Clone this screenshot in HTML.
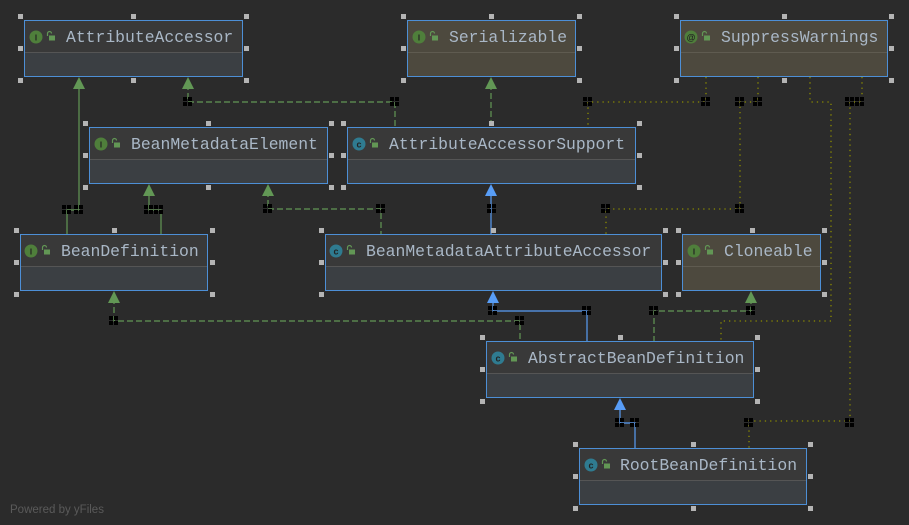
<!DOCTYPE html>
<html><head><meta charset="utf-8">
<style>
html,body{margin:0;padding:0;background:#2b2b2b;}
svg{display:block}
.t{font-family:"Liberation Mono","DejaVu Sans Mono",monospace;font-size:16.4px;fill:#a9b7c6}
</style></head><body>
<svg width="909" height="525" viewBox="0 0 909 525" xmlns="http://www.w3.org/2000/svg">
<defs>
<g id="j"><rect x="0" y="0" width="4" height="4" fill="#000"/><rect x="5" y="0" width="4" height="4" fill="#000"/><rect x="0" y="5" width="4" height="4" fill="#000"/><rect x="5" y="5" width="4" height="4" fill="#000"/></g>
<g id="lk"><path d="M1.5 5 V2.5 a2 2 0 0 1 4 0" fill="none" stroke="#629755" stroke-width="1.2"/><rect x="3" y="4.5" width="6" height="5" fill="#629755"/></g>
</defs>
<rect width="909" height="525" fill="#2b2b2b"/>

<!-- edges: solid green -->
<g fill="none" stroke="#629755" stroke-width="1.2">
<path d="M79 84 V210 H67 V234"/>
<path d="M149 191 V210 H161 V234"/>
</g>
<!-- dashed green -->
<g fill="none" stroke="#629755" stroke-width="1.2" stroke-dasharray="6,3">
<path d="M188 84 V102 H395 V127"/>
<path d="M491 84 V127"/>
<path d="M268 191 V209 H381 V234"/>
<path d="M114 298 V321 H520 V341"/>
<path d="M751 298 V311 H654 V341"/>
</g>
<!-- blue solid -->
<g fill="none" stroke="#589df6" stroke-width="1.2">
<path d="M491 191 V234"/>
<path d="M493 298 V311 H587 V341"/>
<path d="M620 405 V423 H635 V448"/>
</g>
<!-- dotted olive -->
<g fill="none" stroke="#8c8c00" stroke-width="1.3" stroke-dasharray="1.3,4">
<path d="M706 77 V102 H588 V127"/>
<path d="M758 77 V102 H740 V209 H606 V234"/>
<path d="M810 77 V102 H831 V321 H721 V341"/>
<path d="M862 77 V102 H850 V421 H749 V448"/>
</g>
<!-- arrowheads -->
<g fill="#629755">
<polygon points="79,77 73,89 85,89"/>
<polygon points="188,77 182,89 194,89"/>
<polygon points="491,77 485,89 497,89"/>
<polygon points="149,184 143,196 155,196"/>
<polygon points="268,184 262,196 274,196"/>
<polygon points="114,291 108,303 120,303"/>
<polygon points="751,291 745,303 757,303"/>
</g>
<g fill="#589df6">
<polygon points="491,184 485,196 497,196"/>
<polygon points="493,291 487,303 499,303"/>
<polygon points="620,398 614,410 626,410"/>
</g>
<!-- junction markers -->
<use href="#j" x="183" y="97"/><use href="#j" x="390" y="97"/>
<use href="#j" x="583" y="97"/><use href="#j" x="701" y="97"/>
<use href="#j" x="735" y="97"/><use href="#j" x="753" y="97"/>
<use href="#j" x="845" y="97"/><use href="#j" x="855" y="97"/>
<use href="#j" x="62" y="205"/><use href="#j" x="74" y="205"/>
<use href="#j" x="144" y="205"/><use href="#j" x="154" y="205"/>
<use href="#j" x="263" y="204"/><use href="#j" x="376" y="204"/>
<use href="#j" x="487" y="204"/><use href="#j" x="601" y="204"/>
<use href="#j" x="735" y="204"/>
<use href="#j" x="109" y="316"/><use href="#j" x="515" y="316"/>
<use href="#j" x="488" y="306"/><use href="#j" x="582" y="306"/>
<use href="#j" x="649" y="306"/><use href="#j" x="746" y="306"/>
<use href="#j" x="615" y="418"/><use href="#j" x="630" y="418"/>
<use href="#j" x="744" y="418"/><use href="#j" x="845" y="418"/>

<!-- nodes -->
<g id="nodes">
<!-- AttributeAccessor -->
<rect x="24.5" y="20.5" width="218" height="56" fill="#3b3f43" stroke="#4d8fd6"/>
<rect x="25" y="21" width="217" height="31" fill="#393939"/>
<line x1="25" y1="52.5" x2="242" y2="52.5" stroke="#555"/>
<circle cx="36" cy="37" r="6.5" fill="#4f7f3b"/><text x="36" y="40.5" font-family="Liberation Sans" font-size="8" font-weight="bold" fill="#222" text-anchor="middle">I</text>
<use href="#lk" x="46" y="31"/>
<text class="t" x="66" y="42">AttributeAccessor</text>

<!-- Serializable -->
<rect x="407.5" y="20.5" width="168" height="56" fill="#4d493e" stroke="#4d8fd6"/>
<line x1="408" y1="52.5" x2="575" y2="52.5" stroke="#5f5b50"/>
<circle cx="419" cy="37" r="6.5" fill="#4f7f3b"/><text x="419" y="40.5" font-family="Liberation Sans" font-size="8" font-weight="bold" fill="#222" text-anchor="middle">I</text>
<use href="#lk" x="429" y="31"/>
<text class="t" x="449" y="42">Serializable</text>

<!-- SuppressWarnings -->
<rect x="680.5" y="20.5" width="207" height="56" fill="#4d493e" stroke="#4d8fd6"/>
<line x1="681" y1="52.5" x2="887" y2="52.5" stroke="#5f5b50"/>
<circle cx="691" cy="37" r="6.5" fill="#4f7f3b"/><text x="691" y="40.5" font-family="Liberation Sans" font-size="9" font-weight="bold" fill="#222" text-anchor="middle">@</text>
<use href="#lk" x="701" y="31"/>
<text class="t" x="721" y="42">SuppressWarnings</text>

<!-- BeanMetadataElement -->
<rect x="89.5" y="127.5" width="238" height="56" fill="#3b3f43" stroke="#4d8fd6"/>
<rect x="90" y="128" width="237" height="31" fill="#393939"/>
<line x1="90" y1="159.5" x2="327" y2="159.5" stroke="#555"/>
<circle cx="101" cy="144" r="6.5" fill="#4f7f3b"/><text x="101" y="147.5" font-family="Liberation Sans" font-size="8" font-weight="bold" fill="#222" text-anchor="middle">I</text>
<use href="#lk" x="111" y="138"/>
<text class="t" x="131" y="149">BeanMetadataElement</text>

<!-- AttributeAccessorSupport -->
<rect x="347.5" y="127.5" width="288" height="56" fill="#3b3f43" stroke="#4d8fd6"/>
<rect x="348" y="128" width="287" height="31" fill="#393939"/>
<line x1="348" y1="159.5" x2="635" y2="159.5" stroke="#555"/>
<circle cx="359" cy="144" r="6.5" fill="#2f7b90"/><text x="359" y="147.5" font-family="Liberation Sans" font-size="9" font-weight="bold" fill="#222" text-anchor="middle">c</text>
<use href="#lk" x="369" y="138"/>
<text class="t" x="389" y="149">AttributeAccessorSupport</text>

<!-- BeanDefinition -->
<rect x="20.5" y="234.5" width="187" height="56" fill="#3b3f43" stroke="#4d8fd6"/>
<rect x="21" y="235" width="186" height="31" fill="#393939"/>
<line x1="21" y1="266.5" x2="207" y2="266.5" stroke="#555"/>
<circle cx="31" cy="251" r="6.5" fill="#4f7f3b"/><text x="31" y="254.5" font-family="Liberation Sans" font-size="8" font-weight="bold" fill="#222" text-anchor="middle">I</text>
<use href="#lk" x="41" y="245"/>
<text class="t" x="61" y="256">BeanDefinition</text>

<!-- BeanMetadataAttributeAccessor -->
<rect x="325.5" y="234.5" width="336" height="56" fill="#3b3f43" stroke="#4d8fd6"/>
<rect x="326" y="235" width="335" height="31" fill="#393939"/>
<line x1="326" y1="266.5" x2="661" y2="266.5" stroke="#555"/>
<circle cx="336" cy="251" r="6.5" fill="#2f7b90"/><text x="336" y="254.5" font-family="Liberation Sans" font-size="9" font-weight="bold" fill="#222" text-anchor="middle">c</text>
<use href="#lk" x="346" y="245"/>
<text class="t" x="366" y="256">BeanMetadataAttributeAccessor</text>

<!-- Cloneable -->
<rect x="682.5" y="234.5" width="138" height="56" fill="#4d493e" stroke="#4d8fd6"/>
<line x1="683" y1="266.5" x2="820" y2="266.5" stroke="#5f5b50"/>
<circle cx="694" cy="251" r="6.5" fill="#4f7f3b"/><text x="694" y="254.5" font-family="Liberation Sans" font-size="8" font-weight="bold" fill="#222" text-anchor="middle">I</text>
<use href="#lk" x="704" y="245"/>
<text class="t" x="724" y="256">Cloneable</text>

<!-- AbstractBeanDefinition -->
<rect x="486.5" y="341.5" width="267" height="56" fill="#3b3f43" stroke="#4d8fd6"/>
<rect x="487" y="342" width="266" height="31" fill="#393939"/>
<line x1="487" y1="373.5" x2="753" y2="373.5" stroke="#555"/>
<circle cx="498" cy="358" r="6.5" fill="#2f7b90"/><text x="498" y="361.5" font-family="Liberation Sans" font-size="9" font-weight="bold" fill="#222" text-anchor="middle">c</text>
<use href="#lk" x="508" y="352"/>
<text class="t" x="528" y="363">AbstractBeanDefinition</text>

<!-- RootBeanDefinition -->
<rect x="579.5" y="448.5" width="227" height="56" fill="#3b3f43" stroke="#4d8fd6"/>
<rect x="580" y="449" width="226" height="31" fill="#393939"/>
<line x1="580" y1="480.5" x2="806" y2="480.5" stroke="#555"/>
<circle cx="591" cy="465" r="6.5" fill="#2f7b90"/><text x="591" y="468.5" font-family="Liberation Sans" font-size="9" font-weight="bold" fill="#222" text-anchor="middle">c</text>
<use href="#lk" x="601" y="459"/>
<text class="t" x="620" y="470">RootBeanDefinition</text>
</g>

<!-- handles -->
<g fill="#b4b4b4">
<!-- AA 24-242,20-76 -->
<rect x="18" y="14" width="5" height="5"/><rect x="131" y="14" width="5" height="5"/><rect x="244" y="14" width="5" height="5"/>
<rect x="18" y="46" width="5" height="5"/><rect x="244" y="46" width="5" height="5"/>
<rect x="18" y="78" width="5" height="5"/><rect x="131" y="78" width="5" height="5"/><rect x="244" y="78" width="5" height="5"/>
<!-- Ser 407-575 -->
<rect x="401" y="14" width="5" height="5"/><rect x="489" y="14" width="5" height="5"/><rect x="577" y="14" width="5" height="5"/>
<rect x="401" y="46" width="5" height="5"/><rect x="577" y="46" width="5" height="5"/>
<rect x="401" y="78" width="5" height="5"/><rect x="577" y="78" width="5" height="5"/>
<!-- SW 680-887 -->
<rect x="674" y="14" width="5" height="5"/><rect x="782" y="14" width="5" height="5"/><rect x="889" y="14" width="5" height="5"/>
<rect x="674" y="46" width="5" height="5"/><rect x="889" y="46" width="5" height="5"/>
<rect x="674" y="78" width="5" height="5"/><rect x="782" y="78" width="5" height="5"/><rect x="889" y="78" width="5" height="5"/>
<!-- BME 89-327,127-183 -->
<rect x="83" y="121" width="5" height="5"/><rect x="206" y="121" width="5" height="5"/><rect x="329" y="121" width="5" height="5"/>
<rect x="83" y="153" width="5" height="5"/><rect x="329" y="153" width="5" height="5"/>
<rect x="83" y="185" width="5" height="5"/><rect x="206" y="185" width="5" height="5"/><rect x="329" y="185" width="5" height="5"/>
<!-- AAS 347-635 -->
<rect x="341" y="121" width="5" height="5"/><rect x="489" y="121" width="5" height="5"/><rect x="637" y="121" width="5" height="5"/>
<rect x="341" y="153" width="5" height="5"/><rect x="637" y="153" width="5" height="5"/>
<rect x="341" y="185" width="5" height="5"/><rect x="637" y="185" width="5" height="5"/>
<!-- BD 20-207,234-290 -->
<rect x="14" y="228" width="5" height="5"/><rect x="112" y="228" width="5" height="5"/><rect x="210" y="228" width="5" height="5"/>
<rect x="14" y="260" width="5" height="5"/><rect x="210" y="260" width="5" height="5"/>
<rect x="14" y="292" width="5" height="5"/><rect x="210" y="292" width="5" height="5"/>
<!-- BMAA 325-661 -->
<rect x="319" y="228" width="5" height="5"/><rect x="491" y="228" width="5" height="5"/><rect x="663" y="228" width="5" height="5"/>
<rect x="319" y="260" width="5" height="5"/><rect x="663" y="260" width="5" height="5"/>
<rect x="319" y="292" width="5" height="5"/><rect x="663" y="292" width="5" height="5"/>
<!-- Clone 682-820 -->
<rect x="676" y="228" width="5" height="5"/><rect x="750" y="228" width="5" height="5"/><rect x="822" y="228" width="5" height="5"/>
<rect x="676" y="260" width="5" height="5"/><rect x="822" y="260" width="5" height="5"/>
<rect x="676" y="292" width="5" height="5"/><rect x="822" y="292" width="5" height="5"/>
<!-- ABD 486-753,341-397 -->
<rect x="480" y="335" width="5" height="5"/><rect x="618" y="335" width="5" height="5"/><rect x="755" y="335" width="5" height="5"/>
<rect x="480" y="367" width="5" height="5"/><rect x="755" y="367" width="5" height="5"/>
<rect x="480" y="399" width="5" height="5"/><rect x="755" y="399" width="5" height="5"/>
<!-- RBD 579-806,448-504 -->
<rect x="573" y="442" width="5" height="5"/><rect x="691" y="442" width="5" height="5"/><rect x="808" y="442" width="5" height="5"/>
<rect x="573" y="474" width="5" height="5"/><rect x="808" y="474" width="5" height="5"/>
<rect x="573" y="506" width="5" height="5"/><rect x="691" y="506" width="5" height="5"/><rect x="808" y="506" width="5" height="5"/>
</g>

<text x="10" y="513" font-family="Liberation Sans" font-size="11.5" fill="#5a5a5a">Powered by yFiles</text>
</svg>
</body></html>
